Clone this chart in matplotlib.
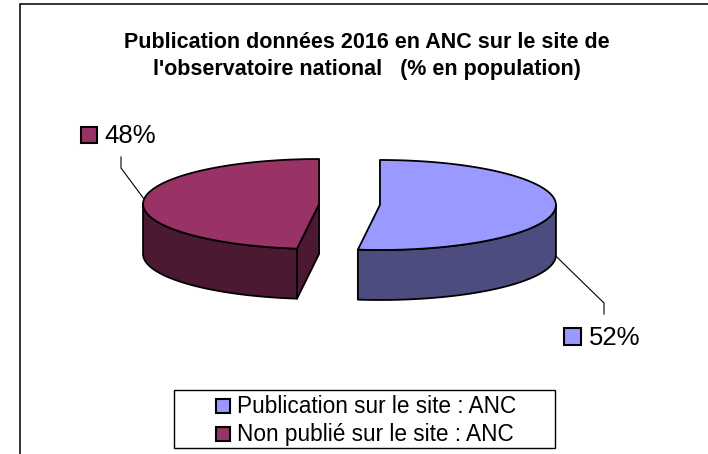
import numpy as np
import matplotlib.pyplot as plt
from matplotlib.patches import Polygon, Rectangle

plt.rcParams['font.family'] = ['Liberation Sans', 'DejaVu Sans']

title = "Publication données 2016 en ANC sur le site de\nl'observatoire national   (% en population)"
labels = ["Publication sur le site : ANC", "Non publié sur le site : ANC"]
values = [52, 48]
top_colors = ["#9999FF", "#993366"]
side_colors = ["#4C4C7F", "#4C1933"]

# pie geometry in pixels (y grows downwards)
cx0, cy0 = 349.5, 204.5
a, b = 176, 45
depth = 50
explode = 30.5


def pt(cx, cy, t):
    return cx + a * np.cos(np.radians(t)), cy - b * np.sin(np.radians(t))


fig = plt.figure(figsize=(7.08, 4.54), dpi=100)
ax = fig.add_axes([0, 0, 1, 1])
ax.set_xlim(0, 708)
ax.set_ylim(454, 0)
ax.axis("off")

# chart frame
ax.plot([20, 20, 708], [454, 4, 4], color="#222222", lw=1.3, solid_joinstyle="miter")

ax.text(366.5, 48, title.split("\n")[0], ha="center", va="baseline",
        fontsize=15.5, fontweight="bold")
ax.text(366.5, 75, title.split("\n")[1], ha="center", va="baseline",
        fontsize=15.5, fontweight="bold")

total = sum(values)
start = 90.0
centers = []
for val, ctop, cside in zip(values, top_colors, side_colors):
    sweep = 360.0 * val / total
    t1, t2 = start, start - sweep
    mid = (t1 + t2) / 2
    cx = cx0 + explode * np.cos(np.radians(mid))
    cy = cy0 - explode * (b / a) * np.sin(np.radians(mid))
    centers.append((cx, cy, mid))
    kw = dict(ec="black", lw=1.3, joinstyle="round")

    # cut faces that face the viewer
    for t, normal in ((t1, t1 + 90), (t2, t2 - 90)):
        if np.sin(np.radians(normal)) < -1e-6:
            px, py = pt(cx, cy, t)
            ax.add_patch(Polygon([(cx, cy), (px, py), (px, py + depth), (cx, cy + depth)],
                                 fc=cside, **kw))

    # outer wall (front half only)
    lo, hi = t2, t1
    for k in (-360, 0, 360):
        f_lo, f_hi = max(lo, -180 + k), min(hi, k)
        if f_hi > f_lo:
            th = np.linspace(f_lo, f_hi, 120)
            xs, ys = pt(cx, cy, th)
            poly = list(zip(xs, ys)) + list(zip(xs[::-1], ys[::-1] + depth))
            ax.add_patch(Polygon(poly, fc=cside, **kw))

    # top face
    th = np.linspace(t1, t2, 240)
    xs, ys = pt(cx, cy, th)
    ax.add_patch(Polygon([(cx, cy)] + list(zip(xs, ys)), fc=ctop, **kw))
    start = t2

# data labels with leader lines
pct = [f"{round(100 * v / total)}%" for v in values]
# blue (52%)
bx, by, bm = centers[0]
sx, sy = pt(bx, by, bm)
ax.plot([sx + 1, 604, 604], [sy + depth - 1, 303, 314], color="black", lw=0.8)
ax.add_patch(Rectangle((564, 328), 17, 17, fc=top_colors[0], ec="black", lw=1.5))
ax.text(589, 345, pct[0], ha="left", va="baseline", fontsize=18.5)
# red (48%)
rx, ry, rm = centers[1]
sx, sy = pt(rx, ry, rm)
ax.plot([sx, 121, 121], [sy - 3, 168, 157], color="black", lw=0.8)
ax.add_patch(Rectangle((81, 127), 16, 16, fc=top_colors[1], ec="black", lw=1.5))
ax.text(104, 143, pct[1], ha="left", va="baseline", fontsize=18.5)

# legend
ax.add_patch(Rectangle((174, 390), 381, 58, fc="white", ec="black", lw=1))
for i, (lab, col) in enumerate(zip(labels, top_colors)):
    y0 = 399 + 28 * i
    ax.add_patch(Rectangle((216, y0), 14, 14, fc=col, ec="black", lw=1.5))
    ax.text(237, y0 + 14, lab, ha="left", va="baseline", fontsize=16.3)

fig.savefig("out.png", dpi=100)
